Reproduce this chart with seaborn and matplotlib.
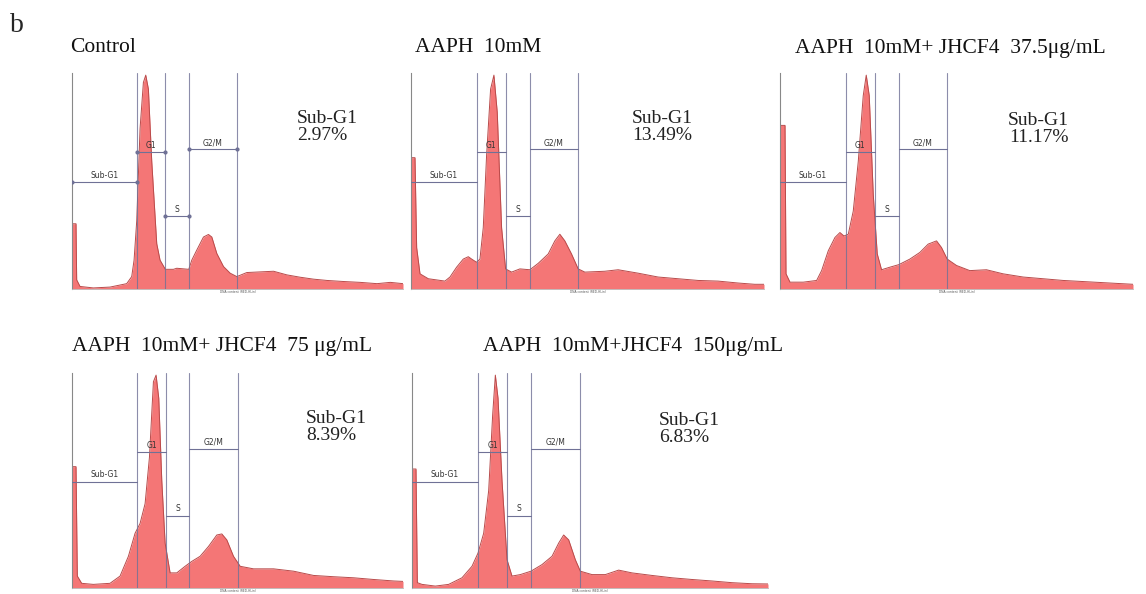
import matplotlib
matplotlib.use("Agg")
import matplotlib.pyplot as plt
import seaborn as sns
import pandas as pd

sns.set_style("white")
plt.rcParams['font.family'] = ['Liberation Serif', 'DejaVu Serif']

# ---------------- data (DNA content 0-1000, counts as % of max) ----------------
titles = ["Control", "AAPH  10mM", "AAPH  10mM+ JHCF4  37.5\u03bcg/mL",
          "AAPH  10mM+ JHCF4  75 \u03bcg/mL", "AAPH  10mM+JHCF4  150\u03bcg/mL"]
subg1_pct = ["2.97%", "13.49%", "11.17%", "8.39%", "6.83%"]

ctrl_x = [0, 12.1, 14.1, 24.2, 64.5, 114.9, 165.3, 180.4, 187.5, 195.6, 205.6, 215.7, 222.8, 230.8,
          240.9, 256, 266, 282, 306.5, 316.5, 352.8, 361.9, 377, 397.2, 412.3, 422.4, 437.5, 457.7,
          477.8, 498, 528.2, 568.5, 608.9, 649.2, 689.5, 729.8, 770.2, 820.6, 871, 921.4, 961.7, 1000]
ctrl_y = [30.5, 30.5, 4.3, 1.2, 0.5, 0.9, 2.5, 5.8, 13.5, 32, 75, 96.6, 100, 93.5,
          59.7, 21.2, 13.5, 9.2, 9.2, 9.7, 9.2, 13.5, 18.2, 24.3, 25.5, 24.3, 16.6, 10.5,
          7.4, 5.8, 7.7, 8, 8.3, 6.6, 5.5, 4.6, 4, 3.5, 3.1, 2.5, 3.1, 2.5]

aaph_x = [0, 11.3, 16, 25.5, 49, 96.2, 110.4, 129.2, 148.1, 162.3, 171.7, 185.8, 195.3, 204.7,
          214.2, 225.5, 234.9, 244.3, 256.6, 268, 284.9, 308.5, 336.8, 360.4, 388.7, 407.5,
          421.7, 435.8, 454.7, 473.6, 492.5, 549, 586.8, 643.4, 700, 756.6, 813.2, 869.8,
          926.4, 973.6, 1000]
aaph_y = [61.4, 61.4, 19.4, 7.1, 4.8, 3.7, 5.6, 10.2, 14, 15.1, 14, 12.5, 14, 28.7,
          62.7, 93.5, 100, 82.7, 28.7, 9.4, 7.9, 9.4, 9, 12, 16.4, 22.5,
          25.6, 22.5, 16.4, 9.4, 7.9, 8.3, 9, 7.4, 5.6, 4.8, 4, 3.7,
          2.8, 2.2, 2.2]

j375_x = [0, 14.2, 17, 28.3, 66, 103.8, 117.9, 136.8, 155.7, 169.8, 181.1, 193.4, 207.5, 221.7,
          235.8, 244.3, 252.8, 264.2, 275.5, 287.7, 311.3, 336.8, 368, 396.2, 419.8, 443.4,
          457.5, 473.6, 500, 537.7, 584.9, 632, 688.7, 745.3, 801.9, 867.9, 934, 1000]
j375_y = [76.5, 76.5, 7.1, 3.2, 3.2, 4, 8.6, 17.9, 24.1, 26.4, 24.8, 25.6, 36.4, 59.6,
          90.4, 100, 90.4, 44.1, 16.4, 9, 10.2, 11.4, 14, 17.1, 21, 22.5,
          19.4, 14, 11, 8.6, 9, 7.1, 5.6, 4.8, 4, 3.4, 2.8, 2.2]

j75_x = [0, 12.1, 16.1, 29.2, 64.5, 114.9, 145.2, 170.4, 190.5, 205.6, 220.8, 233.9, 246, 254,
         262.1, 271.2, 281.3, 296.4, 316.5, 341.7, 361.9, 387.1, 412.3, 437.5, 452.6, 467.7,
         487.9, 508.1, 548.4, 608.9, 669.4, 729.8, 790.3, 850.8, 911.3, 971.8, 1000]
j75_y = [57, 57, 5.6, 2.2, 1.7, 2.2, 5.6, 14.9, 25.7, 30.3, 39.6, 61.3, 96.9, 100,
         89.2, 50.5, 21.1, 7.1, 7.1, 10.2, 12.5, 14.9, 19.5, 24.9, 25.4, 22.6,
         14.9, 10.2, 9, 9, 7.9, 5.9, 5.3, 4.8, 4, 3.3, 3.1]

j150_x = [0, 11.2, 15, 28.1, 65.5, 103, 140.4, 168.5, 185.4, 201.3, 215.4, 226.6, 234.1, 241.6,
          252.8, 266.9, 280.9, 304.3, 334.3, 365.2, 393.3, 412, 426, 440.1, 458.8, 472.8,
          505.6, 543.1, 580.5, 618, 674.2, 730.3, 786.5, 842.7, 898.9, 955.1, 1000]
j150_y = [55.9, 55.9, 2.5, 1.7, 0.9, 1.7, 4.8, 10.2, 16.4, 25.7, 45.8, 81.4, 100, 89.2,
          50.5, 13.3, 5.6, 6.3, 7.9, 11, 14.9, 21.1, 24.9, 22.6, 13.3, 7.9,
          6.3, 6.3, 8.4, 7.1, 5.9, 4.8, 4, 3.3, 2.5, 2, 1.9]

# gate boundaries (Sub-G1 | G1 | S | G2/M) and gate marker heights
gate_bounds = [[195.6, 282, 353, 498],
               [185.8, 268, 336.8, 473.6],
               [186.8, 268.9, 336.8, 473.6],
               [197.6, 284.3, 354.8, 502],
               [185.4, 266.9, 334.3, 472.8]]
gate_names = ["Sub-G1", "G1", "S", "G2/M"]
gate_levels = [50, 64, 34, 65.3]

curves = [(ctrl_x, ctrl_y), (aaph_x, aaph_y), (j375_x, j375_y), (j75_x, j75_y), (j150_x, j150_y)]

# ---------------- layout (pixels) ----------------
W, H = 1146, 594
axes_px = [(72, 73, 403, 289), (411, 73, 764, 289), (780, 73, 1133, 289),
           (72, 373, 403, 588), (412, 373, 768, 588)]
title_px = [(70, 48), (415, 48), (795, 48), (72, 346), (483, 346)]
text_pos = [(0.68, 0.83, 'left'), (0.626, 0.83, 'center'), (0.646, 0.82, 'center'),
            (0.707, 0.83, 'left'), (0.694, 0.82, 'left')]

fig = plt.figure(figsize=(W / 100, H / 100), dpi=100)
fig.text(10 / W, 1 - 25 / H, "b", fontsize=20, va='center', ha='left')

fill_c = "#f47676"
edge_c = "#b94a4a"
gate_c = "#6f7196"

for i in range(5):
    l, t, r, b = axes_px[i]
    ax = fig.add_axes([l / W, 1 - b / H, (r - l) / W, (b - t) / H])
    xs, ys = curves[i]
    df = pd.DataFrame({"x": xs, "y": ys})
    ax.fill_between(df["x"], df["y"], 0, color=fill_c, lw=0, zorder=1)
    sns.lineplot(data=df, x="x", y="y", ax=ax, color=edge_c, lw=0.7, zorder=2)
    bounds = gate_bounds[i]
    starts = [0] + bounds[:3]
    for xb in bounds:
        ax.axvline(xb, color=gate_c, lw=0.8, alpha=0.8, zorder=3)
    for k in range(4):
        s, e = starts[k], bounds[k]
        if k == 3:
            s = bounds[2]
        lvl = gate_levels[k]
        ax.plot([s, e], [lvl, lvl], color=gate_c, lw=0.8, zorder=3,
                marker='o' if i == 0 else None, ms=2)
        ax.text((s + e) / 2, lvl + 1, gate_names[k], fontsize=5.5, ha='center', va='bottom',
                family='DejaVu Sans', color='#333333', zorder=4)
    ax.set_xlim(0, 1000)
    ax.set_ylim(0, 101)
    ax.set_xlabel("")
    ax.set_ylabel("")
    ax.set_xticks(range(0, 1001, 100))
    ax.set_yticks(range(0, 101, 6))
    ax.set_xticklabels([])
    ax.set_yticklabels([])
    ax.tick_params(axis='both', length=2, width=0.5, colors='#999999', direction='out')
    for sp in ["top", "right"]:
        ax.spines[sp].set_visible(False)
    ax.spines["left"].set_color("#888888")
    ax.spines["left"].set_linewidth(0.8)
    ax.spines["bottom"].set_color("#bbbbbb")
    ax.spines["bottom"].set_linewidth(0.6)
    ax.text(0.5, -0.012, "DNA content (RED-HLin)", transform=ax.transAxes, fontsize=2.2,
            ha='center', va='center', family='DejaVu Sans', color='#555555')
    tx, ty, ma = text_pos[i]
    ax.text(tx, ty, "Sub-G1\n" + subg1_pct[i], transform=ax.transAxes, fontsize=14,
            ha='left', va='top', multialignment=ma, color='#222222', linespacing=1.0, zorder=5)
    px, py = title_px[i]
    fig.text(px / W, 1 - py / H, titles[i], fontsize=15.5, ha='left', va='center', color='#111111')

fig.savefig("out.png", dpi=100)
